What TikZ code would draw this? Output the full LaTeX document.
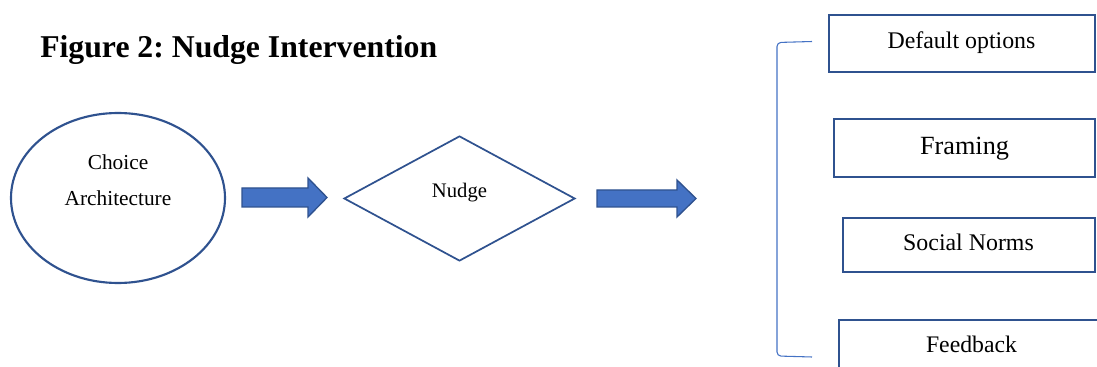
\documentclass[tikz,border=0pt]{standalone}
\usepackage{fontspec}
\setmainfont{Liberation Serif}
\usetikzlibrary{shapes.geometric}
\definecolor{fillblue}{HTML}{4472C4}
\definecolor{edgeblue}{HTML}{2F528F}
\frenchspacing
\begin{document}
\begin{tikzpicture}[x=0.75pt,y=-0.75pt,
  optbox/.style={draw=edgeblue,line width=1.6pt,rectangle,inner sep=0pt},
  blockarrow/.style={fill=fillblue,draw=edgeblue,line width=1pt,line join=miter},
  txt/.style={inner sep=0pt,anchor=base,text=black},
  ]
\useasboundingbox (0,0) rectangle (1097,367);
\clip (0,0) rectangle (1097,367);
% title
\node[txt,anchor=base west,font=\fontsize{23.8}{28}\selectfont\bfseries] (title) at (40,58) {Figure 2: Nudge Intervention};
% ellipse
\node[ellipse,draw=edgeblue,line width=1.6pt,minimum width=160.5pt,minimum height=127.5pt,inner sep=0pt] (choice) at (118,198) {};
\node[txt,font=\fontsize{16}{19}\selectfont] (choiceA) at (118,170) {Choice};
\node[txt,font=\fontsize{16}{19}\selectfont] (choiceB) at (118,206) {Architecture};
% diamond
\node[diamond,draw=edgeblue,line width=1.3pt,minimum width=173.25pt,minimum height=93.75pt,inner sep=0pt] (nudge) at (459.5,198.5) {};
\node[txt,font=\fontsize{15.5}{18}\selectfont] (nudgeT) at (459.5,198) {Nudge};
% block arrows
\draw[blockarrow] (242,188) -- (308,188) -- (308,178) -- (327,197.5) -- (308,217) -- (308,207) -- (242,207) -- cycle;
\draw[blockarrow] (597,190) -- (677,190) -- (677,180) -- (696,198.5) -- (677,217) -- (677,207) -- (597,207) -- cycle;
% bracket
\coordinate (bt) at (812,41.5);
\coordinate (bb) at (812,357);
\draw[draw=fillblue,line width=0.8pt,rounded corners=3pt] (bt) -- (777,42.5) -- (777,356) -- (bb);
% boxes
\node[optbox,minimum width=199.5pt,minimum height=42.75pt] (def) at (962,43.5) {};
\node[txt,font=\fontsize{17.9}{21}\selectfont] (defT) at (961.5,48.5) {Default options};
\node[optbox,minimum width=195.75pt,minimum height=43.5pt] (fra) at (964.5,148) {};
\node[txt,font=\fontsize{19.7}{23}\selectfont] (fraT) at (964.5,155) {Framing};
\node[optbox,minimum width=189pt,minimum height=40.5pt] (soc) at (969,245) {};
\node[txt,font=\fontsize{17.9}{21}\selectfont] (socT) at (968.5,251) {Social Norms};
\draw[draw=edgeblue,line width=1.6pt] (839,400) -- (839,320) -- (1110,320);
\node[txt,font=\fontsize{17.8}{21}\selectfont] (feeT) at (971.5,352) {Feedback};
\end{tikzpicture}
\end{document}
